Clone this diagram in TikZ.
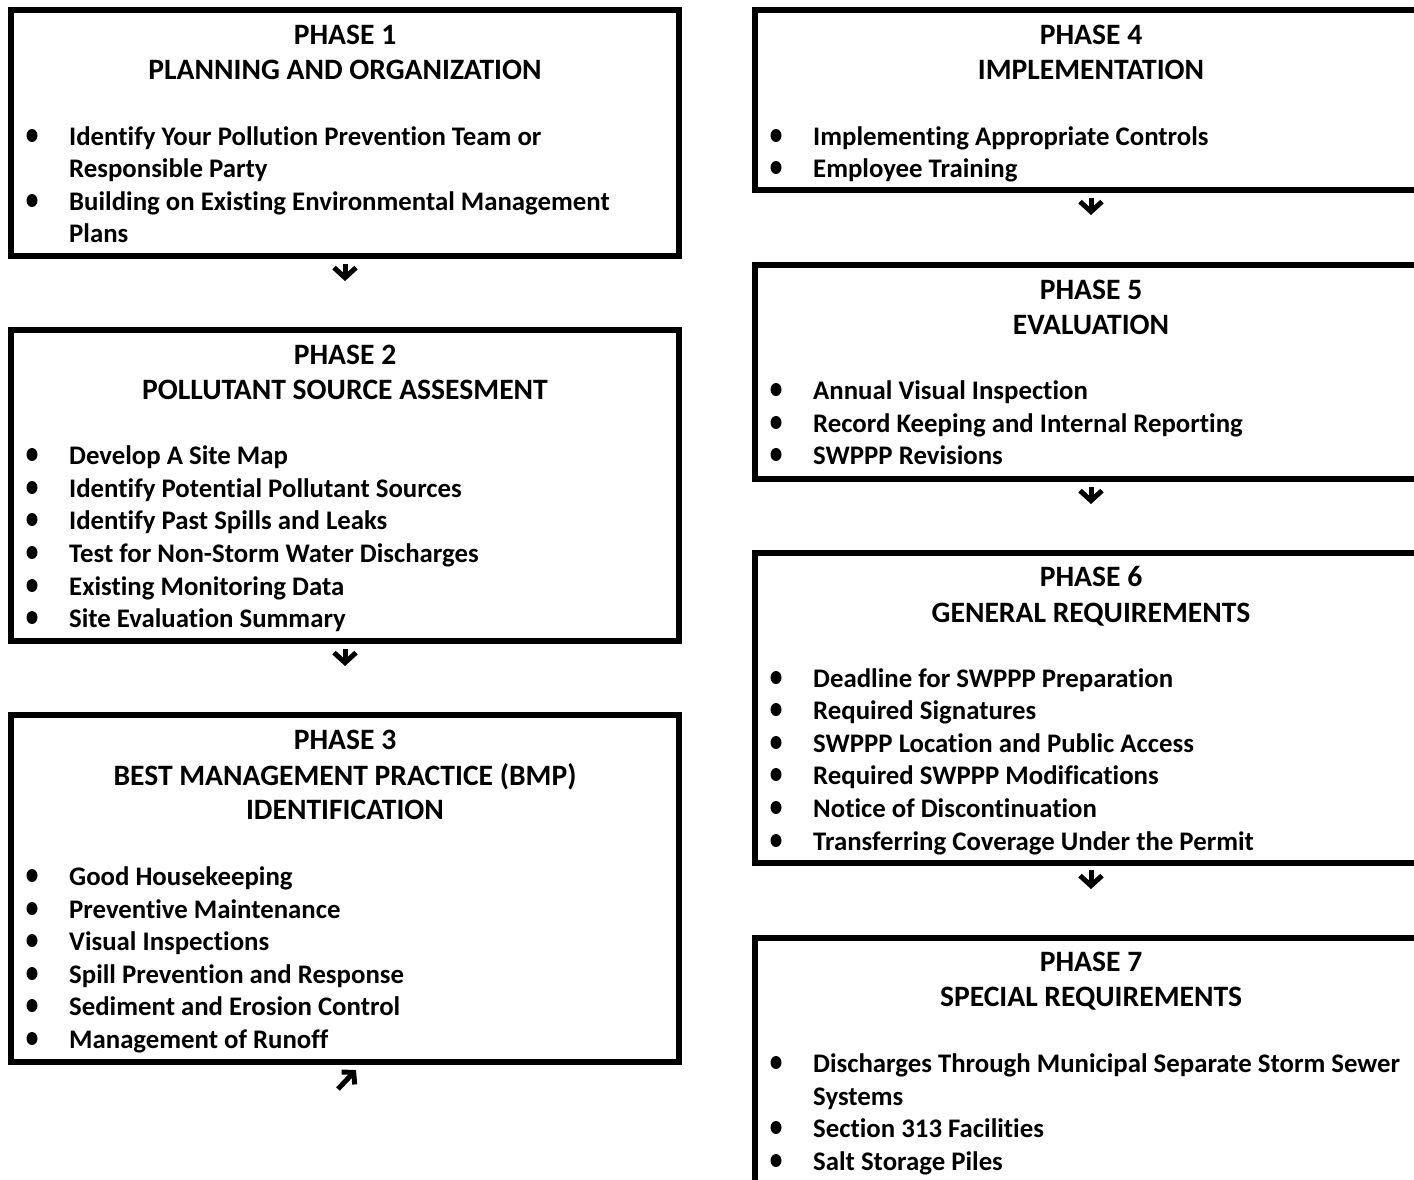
\documentclass[tikz,border=0pt]{standalone}
\usepackage{fontspec}
\setmainfont{Carlito}[Ligatures=NoCommon]
\usetikzlibrary{arrows.meta,shapes.geometric}
\newcommand\pitem[4]{\node[itemtxt] (#1) at (#2,#3) {#4};}
\newcommand\phead[4]{\node[headtxt] (#1) at (#2,#3) {#4};}
\newcommand\pdot[3]{\node[bulletdot] (#1) at (#2,#3-9.5) {};}
\begin{document}
\begin{tikzpicture}[x=1pt,y=-1pt,
  phasebox/.style={draw, line width=6pt, inner sep=0pt},
  headtxt/.style={anchor=base, inner sep=0pt, font=\fontsize{29.6}{34}\selectfont\bfseries},
  itemtxt/.style={anchor=base west, inner sep=0pt, font=\fontsize{26.8}{31}\selectfont\bfseries},
  bulletdot/.style={ellipse, fill, inner sep=0pt, minimum width=11pt, minimum height=13pt},
  flow/.style={line width=5pt, -{Straight Barb[length=10pt, width=22pt]}}]
\useasboundingbox (0,0) rectangle (1414,1179);
\clip (0,0) rectangle (1414,1179);
% boxes
\node[phasebox, minimum width=668pt, minimum height=246pt] (p1) at (345,133) {};
\node[phasebox, minimum width=668pt, minimum height=311pt] (p2) at (345,485.5) {};
\node[phasebox, minimum width=668pt, minimum height=347pt] (p3) at (345,888.5) {};
\node[phasebox, minimum width=672pt, minimum height=180pt] (p4) at (1091,100) {};
\node[phasebox, minimum width=672pt, minimum height=214pt] (p5) at (1091,372) {};
\node[phasebox, minimum width=672pt, minimum height=310pt] (p6) at (1091,708) {};
\node[phasebox, minimum width=672pt, minimum height=262pt] (p7) at (1091,1069) {};
% phase 1
\phead{h1a}{345}{44}{PHASE 1}
\phead{h1b}{345}{79}{PLANNING AND ORGANIZATION}
\pdot{d1a}{32}{145}\pitem{t1a}{69}{145}{Identify Your Pollution Prevention Team or}
\pitem{t1b}{69}{177}{Responsible Party}
\pdot{d1c}{32}{210}\pitem{t1c}{69}{210}{Building on Existing Environmental Management}
\pitem{t1d}{69}{242}{Plans}
% phase 2
\phead{h2a}{345}{364}{PHASE 2}
\phead{h2b}{345}{399}{POLLUTANT SOURCE ASSESMENT}
\pdot{d2a}{32}{464}\pitem{t2a}{69}{464}{Develop A Site Map}
\pdot{d2b}{32}{497}\pitem{t2b}{69}{497}{Identify Potential Pollutant Sources}
\pdot{d2c}{32}{529}\pitem{t2c}{69}{529}{Identify Past Spills and Leaks}
\pdot{d2d}{32}{562}\pitem{t2d}{69}{562}{Test for Non-Storm Water Discharges}
\pdot{d2e}{32}{595}\pitem{t2e}{69}{595}{Existing Monitoring Data}
\pdot{d2f}{32}{627}\pitem{t2f}{69}{627}{Site Evaluation Summary}
% phase 3
\phead{h3a}{345}{749}{PHASE 3}
\phead{h3b}{345}{785}{BEST MANAGEMENT PRACTICE (BMP)}
\phead{h3c}{345}{819}{IDENTIFICATION}
\pdot{d3a}{32}{885}\pitem{t3a}{69}{885}{Good Housekeeping}
\pdot{d3b}{32}{918}\pitem{t3b}{69}{918}{Preventive Maintenance}
\pdot{d3c}{32}{950}\pitem{t3c}{69}{950}{Visual Inspections}
\pdot{d3d}{32}{983}\pitem{t3d}{69}{983}{Spill Prevention and Response}
\pdot{d3e}{32}{1015}\pitem{t3e}{69}{1015}{Sediment and Erosion Control}
\pdot{d3f}{32}{1048}\pitem{t3f}{69}{1048}{Management of Runoff}
% phase 4
\phead{h4a}{1091}{44}{PHASE 4}
\phead{h4b}{1091}{79}{IMPLEMENTATION}
\pdot{d4a}{776}{145}\pitem{t4a}{813}{145}{Implementing Appropriate Controls}
\pdot{d4b}{776}{177}\pitem{t4b}{813}{177}{Employee Training}
% phase 5
\phead{h5a}{1091}{299}{PHASE 5}
\phead{h5b}{1091}{334}{EVALUATION}
\pdot{d5a}{776}{399}\pitem{t5a}{813}{399}{Annual Visual Inspection}
\pdot{d5b}{776}{432}\pitem{t5b}{813}{432}{Record Keeping and Internal Reporting}
\pdot{d5c}{776}{464}\pitem{t5c}{813}{464}{SWPPP Revisions}
% phase 6
\phead{h6a}{1091}{586}{PHASE 6}
\phead{h6b}{1091}{622}{GENERAL REQUIREMENTS}
\pdot{d6a}{776}{687}\pitem{t6a}{813}{687}{Deadline for SWPPP Preparation}
\pdot{d6b}{776}{719}\pitem{t6b}{813}{719}{Required Signatures}
\pdot{d6c}{776}{752}\pitem{t6c}{813}{752}{SWPPP Location and Public Access}
\pdot{d6d}{776}{784}\pitem{t6d}{813}{784}{Required SWPPP Modifications}
\pdot{d6e}{776}{817}\pitem{t6e}{813}{817}{Notice of Discontinuation}
\pdot{d6f}{776}{850}\pitem{t6f}{813}{850}{Transferring Coverage Under the Permit}
% phase 7
\phead{h7a}{1091}{971}{PHASE 7}
\phead{h7b}{1091}{1006}{SPECIAL REQUIREMENTS}
\pdot{d7a}{776}{1072}\pitem{t7a}{813}{1072}{Discharges Through Municipal Separate Storm Sewer}
\pitem{t7b}{813}{1105}{Systems}
\pdot{d7c}{776}{1137}\pitem{t7c}{813}{1137}{Section 313 Facilities}
\pdot{d7d}{776}{1170}\pitem{t7d}{813}{1170}{Salt Storage Piles}
% connectors
\draw[flow, shorten <=5pt, shorten >=46pt] (p1.south) -- (p2.north);
\draw[flow, shorten <=5pt, shorten >=46pt] (p2.south) -- (p3.north);
\draw[flow, shorten <=5pt, shorten >=47pt] (p4.south) -- (p5.north);
\draw[flow, shorten <=5pt, shorten >=46pt] (p5.south) -- (p6.north);
\draw[flow, shorten <=4pt, shorten >=46pt] (p6.south) -- (p7.north);
\coordinate (ne0) at (338,1089);
\coordinate (ne1) at (356,1070);
\draw[line width=5pt, -{Straight Barb[length=8pt, width=18pt]}] (ne0) -- (ne1);
\end{tikzpicture}
\end{document}
